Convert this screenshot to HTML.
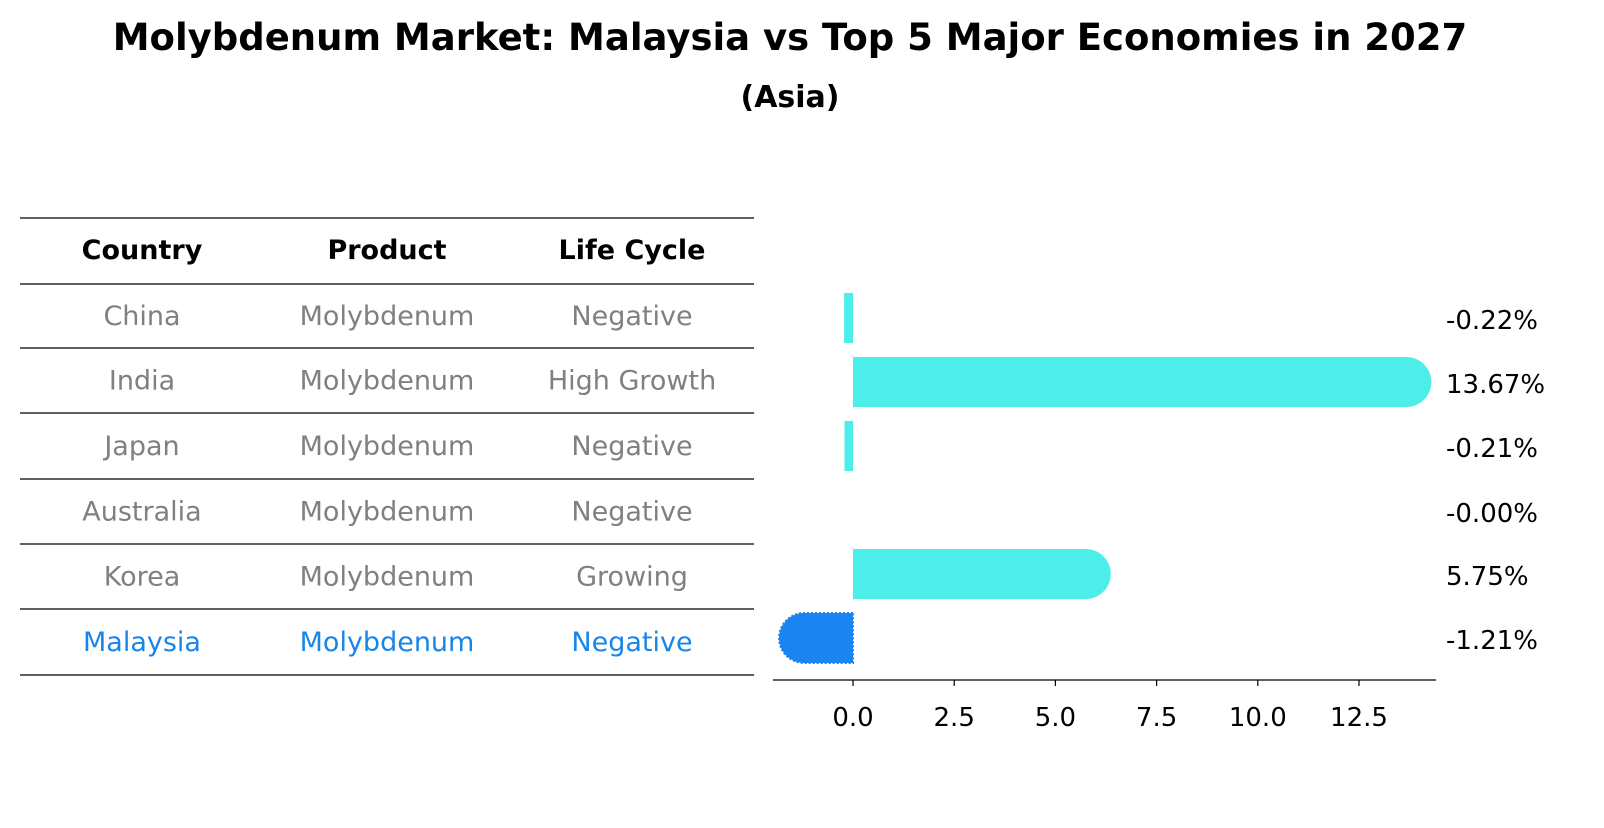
<!DOCTYPE html>
<html><head><meta charset="utf-8"><style>
body{margin:0;background:#fff;font-family:"Liberation Sans","DejaVu Sans",sans-serif;}
svg text{font-family:"DejaVu Sans","Liberation Sans",sans-serif;}
</style></head><body>
<svg id="chart" width="1604" height="823" viewBox="0 0 1604 823" xmlns="http://www.w3.org/2000/svg">
<text x="790" y="50" text-anchor="middle" font-size="37" font-weight="bold" fill="#000">Molybdenum Market: Malaysia vs Top 5 Major Economies in 2027</text>
<text x="790" y="107" text-anchor="middle" font-size="30" font-weight="bold" fill="#000">(Asia)</text>
<g id="table"></g>
<g id="bars"></g>
</svg>
<script>
const countries = ["China","India","Japan","Australia","Korea","Malaysia"];
const products = ["Molybdenum","Molybdenum","Molybdenum","Molybdenum","Molybdenum","Molybdenum"];
const lifeCycles = ["Negative","High Growth","Negative","Negative","Growing","Negative"];
const growthValues = [-0.22,13.67,-0.21,-0.00,5.75,-1.21];
const valueLabels = ["-0.22%","13.67%","-0.21%","-0.00%","5.75%","-1.21%"];
const tickValues = [0,2.5,5,7.5,10,12.5];
const tickLabels = ["0.0","2.5","5.0","7.5","10.0","12.5"];

const NS="http://www.w3.org/2000/svg";
function mk(tag,attrs,parent){const e=document.createElementNS(NS,tag);for(const k in attrs)e.setAttribute(k,attrs[k]);parent.appendChild(e);return e;}
const table=document.getElementById('table');
const bars=document.getElementById('bars');
const lineYs=[218,284,348,413,479,544,609,675];
const colX=[142,387,632];
for(const y of lineYs){
  const l=mk('line',{x1:20,x2:754,y1:y,y2:y,stroke:'#000','stroke-width':1.2},table);
  
  
}
["Country","Product","Life Cycle"].forEach((h,i)=>{
  const t=mk('text',{x:colX[i],y:259,'text-anchor':'middle','font-size':27,'font-weight':'bold',fill:'#000'},table);
  t.textContent=h;
  
  
});
function rowY(i){return (lineYs[i+1]+lineYs[i+2])/2;}
countries.forEach((c,i)=>{
  const col = c==="Malaysia" ? "#1a85e8" : "#808080";
  [c,products[i],lifeCycles[i]].forEach((v,j)=>{
    const t=mk('text',{x:colX[j],y:rowY(i)+9,'text-anchor':'middle','font-size':27,fill:col},table);
    t.textContent=v;
    
    
  });
});
const x0=853, pxPerUnit=(1359-853)/12.5;
function xs(v){return x0+v*pxPerUnit;}
const barH=50, r=25;
const barCY=[318,382,446,511,574,638];
growthValues.forEach((v,i)=>{
  const isM=countries[i]==="Malaysia";
  const col=isM?"#1a85f0":"#4deeea";
  const xe=xs(v), cy=barCY[i], top=cy-barH/2;
  let d;
  if(Math.abs(xe-x0)<0.5){return;}
  if(Math.abs(v)<0.5){
    const a=Math.min(xe,x0), w=Math.abs(xe-x0);
    const rc=mk('rect',{x:a,y:top,width:w,height:barH,fill:col},bars);
    
    
    return;
  }
  if(v>0){
    d=`M${x0},${top} L${xe},${top} A${r},${r} 0 0 1 ${xe},${top+barH} L${x0},${top+barH} Z`;
  } else {
    d=`M${x0},${top} L${xe},${top} A${r},${r} 0 0 0 ${xe},${top+barH} L${x0},${top+barH} Z`;
  }
  const p=mk('path',{d:d,fill:col},bars);
  if(isM){p.setAttribute('stroke','#1a85f0');p.setAttribute('stroke-dasharray','2,2');p.setAttribute('stroke-width','2');}
  
  
});
valueLabels.forEach((s,i)=>{
  const t=mk('text',{x:1446,y:barCY[i]+11,'font-size':26,fill:'#000'},bars);
  t.textContent=s;
  
  
});
const ax=mk('line',{x1:773,x2:1436,y1:680,y2:680,stroke:'#000','stroke-width':1.3},bars);


tickValues.forEach((v,i)=>{
  const tk=mk('line',{x1:xs(v),x2:xs(v),y1:680,y2:686,stroke:'#000','stroke-width':1.2},bars);
  
  
  const t=mk('text',{x:xs(v),y:726,'text-anchor':'middle','font-size':26,fill:'#000'},bars);
  t.textContent=tickLabels[i];
  
  
});
</script>
</body></html>
